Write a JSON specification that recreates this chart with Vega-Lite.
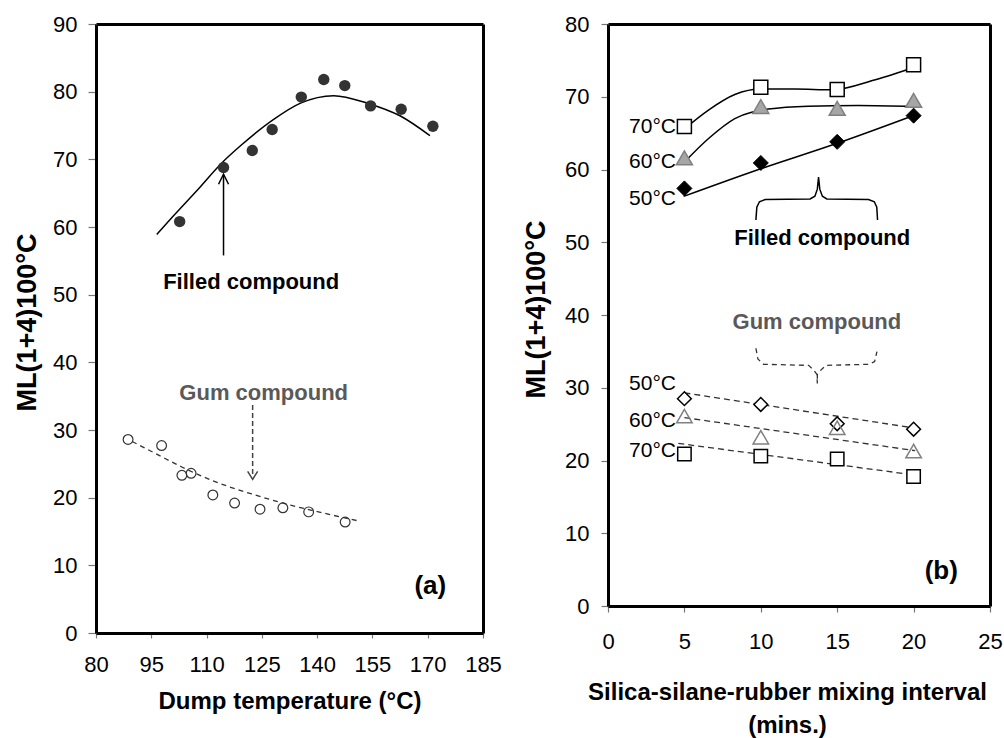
{
  "$schema": "https://vega.github.io/schema/vega-lite/v6.json",
  "padding": {"left": 13, "top": 13, "right": 0, "bottom": 0},
  "background": "white",
  "spacing": 20,
  "config": {
    "font": "Liberation Sans, Arial, sans-serif",
    "axis": {"grid": false, "zindex": 1, "labelColor": "black", "labelFontSize": 22, "labelFlush": false, "labelOverlap": false, "titleFontWeight": "bold", "titleColor": "black", "domainColor": "#000000", "domainWidth": 3, "tickColor": "#777777", "tickWidth": 1.2},
    "text": {"font": "Liberation Sans, Arial, sans-serif"}
  },
  "datasets": {
    "fitA": [
      {"T": 96.5, "ML": 58.9}, {"T": 101.1, "ML": 61.7}, {"T": 107.4, "ML": 65.4}, {"T": 114.2, "ML": 69.5},
      {"T": 119.2, "ML": 72.0}, {"T": 128.2, "ML": 75.9}, {"T": 135.5, "ML": 78.3}, {"T": 144.5, "ML": 79.4},
      {"T": 153.6, "ML": 78.3}, {"T": 162.6, "ML": 76.4}, {"T": 170.6, "ML": 73.5}
    ],
    "gumFitA": [
      {"T": 89.8, "ML": 28.3}, {"T": 96.6, "ML": 26.4}, {"T": 103.4, "ML": 24.5}, {"T": 111.7, "ML": 22.5},
      {"T": 122.5, "ML": 20.5}, {"T": 132.8, "ML": 18.9}, {"T": 142.7, "ML": 17.6}, {"T": 150.9, "ML": 16.6}
    ],
    "ptsFilledA": [
      {"T": 102.7, "ML": 60.8}, {"T": 114.6, "ML": 68.8}, {"T": 122.4, "ML": 71.3}, {"T": 127.8, "ML": 74.4},
      {"T": 135.7, "ML": 79.2}, {"T": 141.8, "ML": 81.8}, {"T": 147.5, "ML": 80.9}, {"T": 154.5, "ML": 77.9},
      {"T": 162.8, "ML": 77.4}, {"T": 171.4, "ML": 74.9}
    ],
    "ptsGumA": [
      {"T": 88.7, "ML": 28.6}, {"T": 97.8, "ML": 27.7}, {"T": 103.3, "ML": 23.3}, {"T": 105.8, "ML": 23.6},
      {"T": 111.7, "ML": 20.4}, {"T": 117.6, "ML": 19.2}, {"T": 124.5, "ML": 18.3}, {"T": 130.7, "ML": 18.5},
      {"T": 137.7, "ML": 17.9}, {"T": 147.6, "ML": 16.4}
    ],
    "arrowFilledA": [{"T": 114.6, "ML": 55.8, "ML2": 67.6}],
    "arrowGumA": [{"T": 122.5, "ML": 33.7, "ML2": 23.4}],
    "headUpA": [{"T": 114.6, "ML": 67.06}],
    "headDownA": [{"T": 122.5, "ML": 23.3}],
    "txtFilledA": [{"T": 122.1, "ML": 51.9, "label": "Filled compound"}],
    "txtGumA": [{"T": 125.5, "ML": 35.4, "label": "Gum compound"}],
    "txtPanelA": [{"T": 170.7, "ML": 7.0, "label": "(a)"}],
    "fitFilledB": [
      {"series": "70", "t": 4.9, "ML": 65.4}, {"series": "70", "t": 6.6, "ML": 68.2}, {"series": "70", "t": 8.3, "ML": 70.3},
      {"series": "70", "t": 10.0, "ML": 71.05}, {"series": "70", "t": 12.25, "ML": 71.05}, {"series": "70", "t": 14.65, "ML": 70.95},
      {"series": "70", "t": 17.5, "ML": 72.35}, {"series": "70", "t": 20.1, "ML": 74.1},
      {"series": "60", "t": 4.9, "ML": 60.8}, {"series": "60", "t": 6.6, "ML": 64.3}, {"series": "60", "t": 8.3, "ML": 67.0},
      {"series": "60", "t": 10.5, "ML": 68.3}, {"series": "60", "t": 13.1, "ML": 68.7}, {"series": "60", "t": 16.4, "ML": 68.8},
      {"series": "60", "t": 20.1, "ML": 68.65},
      {"series": "50", "t": 4.95, "ML": 56.3}, {"series": "50", "t": 10.0, "ML": 60.1}, {"series": "50", "t": 15.0, "ML": 63.6},
      {"series": "50", "t": 20.1, "ML": 67.5}
    ],
    "fitGumB": [
      {"series": "50", "t": 5.0, "ML": 29.3}, {"series": "50", "t": 20.1, "ML": 24.45},
      {"series": "60", "t": 5.0, "ML": 25.9}, {"series": "60", "t": 20.1, "ML": 21.35},
      {"series": "70", "t": 4.6, "ML": 22.35}, {"series": "70", "t": 20.1, "ML": 18.0}
    ],
    "ptsB": [
      {"comp": "Filled", "temp": 70, "t": 5, "ML": 65.9}, {"comp": "Filled", "temp": 70, "t": 10, "ML": 71.3},
      {"comp": "Filled", "temp": 70, "t": 15, "ML": 71.0}, {"comp": "Filled", "temp": 70, "t": 20, "ML": 74.4},
      {"comp": "Filled", "temp": 60, "t": 5, "ML": 61.6}, {"comp": "Filled", "temp": 60, "t": 10, "ML": 68.65},
      {"comp": "Filled", "temp": 60, "t": 15, "ML": 68.4}, {"comp": "Filled", "temp": 60, "t": 20, "ML": 69.5},
      {"comp": "Filled", "temp": 50, "t": 5, "ML": 57.4}, {"comp": "Filled", "temp": 50, "t": 10, "ML": 60.9},
      {"comp": "Filled", "temp": 50, "t": 15, "ML": 63.8}, {"comp": "Filled", "temp": 50, "t": 20, "ML": 67.4},
      {"comp": "Gum", "temp": 50, "t": 5, "ML": 28.5}, {"comp": "Gum", "temp": 50, "t": 10, "ML": 27.7},
      {"comp": "Gum", "temp": 50, "t": 15, "ML": 25.05}, {"comp": "Gum", "temp": 50, "t": 20, "ML": 24.3},
      {"comp": "Gum", "temp": 60, "t": 5, "ML": 26.1}, {"comp": "Gum", "temp": 60, "t": 10, "ML": 23.2},
      {"comp": "Gum", "temp": 60, "t": 15, "ML": 24.5}, {"comp": "Gum", "temp": 60, "t": 20, "ML": 21.3},
      {"comp": "Gum", "temp": 70, "t": 5, "ML": 20.9}, {"comp": "Gum", "temp": 70, "t": 10, "ML": 20.6},
      {"comp": "Gum", "temp": 70, "t": 15, "ML": 20.2}, {"comp": "Gum", "temp": 70, "t": 20, "ML": 17.8}
    ],
    "tempLabelsB": [
      {"t": 4.45, "ML": 65.8, "label": "70°C"}, {"t": 4.45, "ML": 60.97, "label": "60°C"}, {"t": 4.45, "ML": 55.9, "label": "50°C"},
      {"t": 4.45, "ML": 30.45, "label": "50°C"}, {"t": 4.45, "ML": 25.4, "label": "60°C"}, {"t": 4.45, "ML": 21.35, "label": "70°C"}
    ],
    "braceFilledB": [
      {"o": 1, "t": 9.68, "ML": 53.05}, {"o": 2, "t": 9.74, "ML": 54.81}, {"o": 3, "t": 9.91, "ML": 55.57},
      {"o": 4, "t": 10.29, "ML": 55.88}, {"o": 5, "t": 13.23, "ML": 55.96}, {"o": 6, "t": 13.54, "ML": 56.33},
      {"o": 7, "t": 13.7, "ML": 57.3}, {"o": 8, "t": 13.78, "ML": 58.96}, {"o": 9, "t": 13.86, "ML": 57.3},
      {"o": 10, "t": 14.03, "ML": 56.33}, {"o": 11, "t": 14.32, "ML": 55.96}, {"o": 12, "t": 17.05, "ML": 55.88},
      {"o": 13, "t": 17.43, "ML": 55.57}, {"o": 14, "t": 17.59, "ML": 54.81}, {"o": 15, "t": 17.64, "ML": 53.05}
    ],
    "braceGumB": [
      {"o": 1, "t": 9.68, "ML": 35.43}, {"o": 2, "t": 9.81, "ML": 33.95}, {"o": 3, "t": 10.18, "ML": 33.22},
      {"o": 4, "t": 13.13, "ML": 33.08}, {"o": 5, "t": 13.47, "ML": 32.43}, {"o": 6, "t": 13.67, "ML": 31.83},
      {"o": 7, "t": 13.7, "ML": 30.59}, {"o": 8, "t": 13.7, "ML": 31.83}, {"o": 9, "t": 13.93, "ML": 32.43},
      {"o": 10, "t": 14.26, "ML": 33.08}, {"o": 11, "t": 17.05, "ML": 33.22}, {"o": 12, "t": 17.45, "ML": 33.6},
      {"o": 13, "t": 17.6, "ML": 34.98}
    ],
    "txtFilledB": [{"t": 14.02, "ML": 50.6, "label": "Filled compound"}],
    "txtGumB": [{"t": 13.67, "ML": 39.06, "label": "Gum compound"}],
    "txtPanelB": [{"t": 21.81, "ML": 4.75, "label": "(b)"}]
  },
  "hconcat": [
    {
      "width": 387,
      "height": 609,
      "view": {"stroke": null},
      "resolve": {"axis": {"x": "independent", "y": "independent"}},
      "encoding": {
        "x": {"field": "T", "type": "quantitative", "scale": {"domain": [80, 185], "nice": false, "zero": false}, "axis": null},
        "y": {"field": "ML", "type": "quantitative", "scale": {"domain": [0, 90], "nice": false, "zero": false}, "axis": null}
      },
      "layer": [
        {"data": {"name": "fitA"}, "mark": {"type": "line", "interpolate": "monotone", "color": "black", "strokeWidth": 1.5},
          "encoding": {
            "x": {"field": "T", "type": "quantitative", "scale": {"domain": [80, 185], "nice": false, "zero": false},
              "axis": {"orient": "bottom", "values": [80, 95, 110, 125, 140, 155, 170, 185], "title": "Dump temperature (°C)", "tickSize": 5, "labelPadding": 16.5, "titleFontSize": 24, "titlePadding": 14}},
            "y": {"field": "ML", "type": "quantitative", "scale": {"domain": [0, 90], "nice": false, "zero": false},
              "axis": {"orient": "left", "values": [0, 10, 20, 30, 40, 50, 60, 70, 80, 90], "title": "ML(1+4)100°C", "tickSize": 8, "labelPadding": 11, "titleFontSize": 27, "titlePadding": 11.3, "titleY": 298}}
          }},
        {"data": {"name": "gumFitA"}, "mark": {"type": "line", "interpolate": "monotone", "color": "#333333", "strokeWidth": 1.3, "strokeDash": [5, 4]},
          "encoding": {
            "x": {"field": "T", "type": "quantitative", "scale": {"domain": [80, 185], "nice": false, "zero": false},
              "axis": {"orient": "top", "labels": false, "ticks": false, "title": null}},
            "y": {"field": "ML", "type": "quantitative", "scale": {"domain": [0, 90], "nice": false, "zero": false},
              "axis": {"orient": "right", "labels": false, "ticks": false, "title": null}}
          }},
        {"data": {"name": "ptsFilledA"}, "mark": {"type": "circle", "size": 130, "color": "#333333", "opacity": 1}},
        {"data": {"name": "ptsGumA"}, "mark": {"type": "point", "shape": "circle", "size": 95, "filled": false, "stroke": "#333333", "strokeWidth": 1.2, "opacity": 1}},
        {"data": {"name": "arrowFilledA"}, "mark": {"type": "rule", "color": "black", "strokeWidth": 1.5}, "encoding": {"y2": {"field": "ML2"}}},
        {"data": {"name": "arrowGumA"}, "mark": {"type": "rule", "color": "#444444", "strokeWidth": 1.5, "strokeDash": [5, 3]}, "encoding": {"y2": {"field": "ML2"}}},
        {"data": {"name": "headUpA"}, "mark": {"type": "point", "shape": "M-1,1L0,-1L1,1", "size": 100, "filled": false, "stroke": "black", "strokeWidth": 1.5, "opacity": 1}},
        {"data": {"name": "headDownA"}, "mark": {"type": "point", "shape": "M-1,-0.8L0,0.8L1,-0.8", "size": 100, "filled": false, "stroke": "#444444", "strokeWidth": 1.5, "opacity": 1}},
        {"data": {"name": "txtFilledA"}, "mark": {"type": "text", "fontSize": 22, "fontWeight": "bold", "color": "black", "align": "center", "baseline": "middle"}, "encoding": {"text": {"field": "label"}}},
        {"data": {"name": "txtGumA"}, "mark": {"type": "text", "fontSize": 22, "fontWeight": "bold", "color": "#595959", "align": "center", "baseline": "middle"}, "encoding": {"text": {"field": "label"}}},
        {"data": {"name": "txtPanelA"}, "mark": {"type": "text", "fontSize": 26, "fontWeight": "bold", "color": "black", "align": "center", "baseline": "middle"}, "encoding": {"text": {"field": "label"}}}
      ]
    },
    {
      "width": 382,
      "height": 582,
      "view": {"stroke": null},
      "resolve": {"axis": {"x": "independent", "y": "independent"}},
      "encoding": {
        "x": {"field": "t", "type": "quantitative", "scale": {"domain": [0, 25], "nice": false}, "axis": null},
        "y": {"field": "ML", "type": "quantitative", "scale": {"domain": [0, 80], "nice": false}, "axis": null}
      },
      "layer": [
        {"data": {"name": "fitFilledB"}, "mark": {"type": "line", "interpolate": "monotone", "color": "black", "strokeWidth": 1.5},
          "encoding": {
            "detail": {"field": "series"},
            "x": {"field": "t", "type": "quantitative", "scale": {"domain": [0, 25], "nice": false},
              "axis": {"orient": "bottom", "values": [0, 5, 10, 15, 20, 25], "title": ["Silica-silane-rubber mixing interval", "(mins.)"], "tickSize": 6, "labelPadding": 19.7, "titleFontSize": 24, "titleLineHeight": 33, "titlePadding": 28, "titleX": 179}},
            "y": {"field": "ML", "type": "quantitative", "scale": {"domain": [0, 80], "nice": false},
              "axis": {"orient": "left", "values": [0, 10, 20, 30, 40, 50, 60, 70, 80], "title": "ML(1+4)100°C", "tickSize": 7, "labelPadding": 12, "titleFontSize": 27, "titlePadding": 14.2, "titleY": 285}}
          }},
        {"data": {"name": "fitGumB"}, "mark": {"type": "line", "color": "#333333", "strokeWidth": 1.3, "strokeDash": [6, 4]},
          "encoding": {
            "detail": {"field": "series"},
            "x": {"field": "t", "type": "quantitative", "scale": {"domain": [0, 25], "nice": false},
              "axis": {"orient": "top", "labels": false, "ticks": false, "title": null}},
            "y": {"field": "ML", "type": "quantitative", "scale": {"domain": [0, 80], "nice": false},
              "axis": {"orient": "right", "labels": false, "ticks": false, "title": null}}
          }},
        {"data": {"name": "braceFilledB"}, "mark": {"type": "line", "color": "black", "strokeWidth": 1.5}, "encoding": {"order": {"field": "o"}}},
        {"data": {"name": "braceGumB"}, "mark": {"type": "line", "color": "#333333", "strokeWidth": 1.3, "strokeDash": [5, 4]}, "encoding": {"order": {"field": "o"}}},
        {"data": {"name": "ptsB"}, "transform": [{"filter": "datum.comp === 'Filled' && datum.temp === 70"}], "mark": {"type": "point", "shape": "square", "size": 196, "filled": true, "fill": "white", "stroke": "black", "strokeWidth": 1.5, "opacity": 1}},
        {"data": {"name": "ptsB"}, "transform": [{"filter": "datum.comp === 'Filled' && datum.temp === 60"}], "mark": {"type": "point", "shape": "triangle-up", "size": 256, "filled": true, "fill": "#a6a6a6", "stroke": "#808080", "strokeWidth": 1.5, "opacity": 1}},
        {"data": {"name": "ptsB"}, "transform": [{"filter": "datum.comp === 'Filled' && datum.temp === 50"}], "mark": {"type": "point", "shape": "diamond", "size": 225, "filled": true, "fill": "black", "stroke": "black", "strokeWidth": 1, "opacity": 1}},
        {"data": {"name": "ptsB"}, "transform": [{"filter": "datum.comp === 'Gum' && datum.temp === 50"}], "mark": {"type": "point", "shape": "diamond", "size": 190, "filled": true, "fill": "white", "stroke": "black", "strokeWidth": 1.5, "opacity": 1}},
        {"data": {"name": "ptsB"}, "transform": [{"filter": "datum.comp === 'Gum' && datum.temp === 60"}], "mark": {"type": "point", "shape": "triangle-up", "size": 240, "filled": false, "stroke": "#808080", "strokeWidth": 1.5, "opacity": 1}},
        {"data": {"name": "ptsB"}, "transform": [{"filter": "datum.comp === 'Gum' && datum.temp === 70"}], "mark": {"type": "point", "shape": "square", "size": 180, "filled": true, "fill": "white", "stroke": "black", "strokeWidth": 1.5, "opacity": 1}},
        {"data": {"name": "tempLabelsB"}, "mark": {"type": "text", "fontSize": 21, "color": "black", "align": "right", "baseline": "middle"}, "encoding": {"text": {"field": "label"}}},
        {"data": {"name": "txtFilledB"}, "mark": {"type": "text", "fontSize": 22, "fontWeight": "bold", "color": "black", "align": "center", "baseline": "middle"}, "encoding": {"text": {"field": "label"}}},
        {"data": {"name": "txtGumB"}, "mark": {"type": "text", "fontSize": 22, "fontWeight": "bold", "color": "#595959", "align": "center", "baseline": "middle"}, "encoding": {"text": {"field": "label"}}},
        {"data": {"name": "txtPanelB"}, "mark": {"type": "text", "fontSize": 26, "fontWeight": "bold", "color": "black", "align": "center", "baseline": "middle"}, "encoding": {"text": {"field": "label"}}}
      ]
    }
  ]
}
